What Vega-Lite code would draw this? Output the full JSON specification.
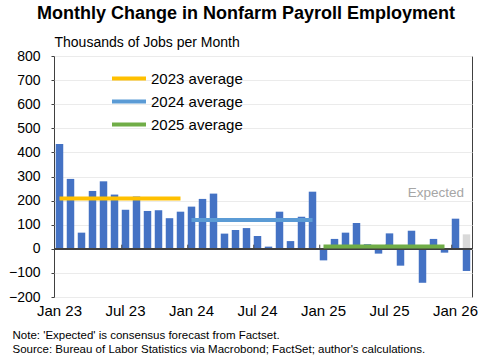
{
  "$schema": "https://vega.github.io/schema/vega-lite/v6.json",
  "width": 418,
  "height": 241,
  "autosize": {"type": "none"},
  "padding": {"left": 54, "top": 56, "right": 20, "bottom": 60},
  "background": "white",
  "config": {
    "font": "Liberation Sans",
    "view": {"stroke": "#404040", "strokeWidth": 1}
  },
  "title": {
    "text": "Monthly Change in Nonfarm Payroll Employment",
    "fontSize": 18,
    "fontWeight": "bold",
    "color": "black",
    "anchor": "middle",
    "dx": -17,
    "offset": 12
  },
  "datasets": {
    "bars": [
      {"m": "Jan 23", "v": 435},
      {"m": "Feb 23", "v": 290},
      {"m": "Mar 23", "v": 67},
      {"m": "Apr 23", "v": 240},
      {"m": "May 23", "v": 280},
      {"m": "Jun 23", "v": 225},
      {"m": "Jul 23", "v": 162},
      {"m": "Aug 23", "v": 217},
      {"m": "Sep 23", "v": 157},
      {"m": "Oct 23", "v": 160},
      {"m": "Nov 23", "v": 127},
      {"m": "Dec 23", "v": 154},
      {"m": "Jan 24", "v": 175},
      {"m": "Feb 24", "v": 207},
      {"m": "Mar 24", "v": 229},
      {"m": "Apr 24", "v": 63},
      {"m": "May 24", "v": 78},
      {"m": "Jun 24", "v": 86},
      {"m": "Jul 24", "v": 53},
      {"m": "Aug 24", "v": 9},
      {"m": "Sep 24", "v": 154},
      {"m": "Oct 24", "v": 32},
      {"m": "Nov 24", "v": 133},
      {"m": "Dec 24", "v": 237},
      {"m": "Jan 25", "v": -48},
      {"m": "Feb 25", "v": 41},
      {"m": "Mar 25", "v": 67},
      {"m": "Apr 25", "v": 107},
      {"m": "May 25", "v": 19},
      {"m": "Jun 25", "v": -20},
      {"m": "Jul 25", "v": 64},
      {"m": "Aug 25", "v": -70},
      {"m": "Sep 25", "v": 75},
      {"m": "Oct 25", "v": -141},
      {"m": "Nov 25", "v": 41},
      {"m": "Dec 25", "v": -16},
      {"m": "Jan 26", "v": 125},
      {"m": "Feb 26", "v": -92, "exp": 60, "note": "Expected"}
    ],
    "avg": [
      {"m": "Jan 23", "avg": 209, "series": "2023 average"},
      {"m": "Dec 23", "avg": 209, "series": "2023 average"},
      {"m": "Jan 24", "avg": 120, "series": "2024 average"},
      {"m": "Dec 24", "avg": 120, "series": "2024 average"},
      {"m": "Jan 25", "avg": 10, "series": "2025 average"},
      {"m": "Dec 25", "avg": 10, "series": "2025 average"}
    ],
    "ticks": [
      {"m": "Jul 23"}, {"m": "Jan 24"}, {"m": "Jul 24"}, {"m": "Jan 25"}, {"m": "Jul 25"}, {"m": "Jan 26"}
    ]
  },
  "encoding": {
    "x": {
      "field": "m",
      "type": "ordinal",
      "scale": {
        "domain": ["Jan 23","Feb 23","Mar 23","Apr 23","May 23","Jun 23","Jul 23","Aug 23","Sep 23","Oct 23","Nov 23","Dec 23",
                   "Jan 24","Feb 24","Mar 24","Apr 24","May 24","Jun 24","Jul 24","Aug 24","Sep 24","Oct 24","Nov 24","Dec 24",
                   "Jan 25","Feb 25","Mar 25","Apr 25","May 25","Jun 25","Jul 25","Aug 25","Sep 25","Oct 25","Nov 25","Dec 25",
                   "Jan 26","Feb 26"],
        "paddingInner": 0.32,
        "paddingOuter": 0.16
      },
      "axis": {
        "values": ["Jan 23","Jul 23","Jan 24","Jul 24","Jan 25","Jul 25","Jan 26"],
        "labelAngle": 0,
        "labelFontSize": 15,
        "labelColor": "black",
        "labelPadding": 6,
        "labelOverlap": false,
        "ticks": false,
        "domain": false,
        "grid": false,
        "title": ["Note: 'Expected' is consensus forecast from Factset.", "Source: Bureau of Labor Statistics via Macrobond; FactSet; author's calculations."],
        "titleFontSize": 11.5,
        "titleFontWeight": "normal",
        "titleColor": "black",
        "titleAlign": "left",
        "titleAnchor": "start",
        "titleBaseline": "alphabetic",
        "titleLineHeight": 14,
        "titleX": -42,
        "titleY": 41
      }
    }
  },
  "layer": [
    {
      "data": {"name": "bars"},
      "mark": {"type": "bar", "color": "#d9d9d9"},
      "encoding": {
        "y": {
          "field": "exp",
          "type": "quantitative",
          "scale": {"domain": [-200, 800], "nice": false},
          "axis": {
            "values": [-200, -100, 0, 100, 200, 300, 400, 500, 600, 700, 800],
            "tickCount": 20,
            "labelOverlap": false,
            "labelFontSize": 14,
            "labelColor": "black",
            "labelPadding": 11,
            "tickSize": 3,
            "tickColor": "#404040",
            "domain": false,
            "grid": true,
            "gridColor": "#ebebeb",
            "title": "Thousands of Jobs per Month",
            "titleAngle": 0,
            "titleAlign": "left",
            "titleAnchor": "start",
            "titleBaseline": "alphabetic",
            "titleFontSize": 14,
            "titleFontWeight": "normal",
            "titleColor": "black",
            "titleX": 0,
            "titleY": -10
          }
        }
      }
    },
    {
      "data": {"name": "bars"},
      "mark": {"type": "bar", "color": "#4472c4"},
      "encoding": {
        "y": {"field": "v", "type": "quantitative"}
      }
    },
    {
      "data": {"name": "bars"},
      "mark": {"type": "rule", "color": "#404040", "strokeWidth": 1.5},
      "encoding": {
        "x": null,
        "y": {"datum": 0, "type": "quantitative"}
      }
    },
    {
      "data": {"name": "ticks"},
      "mark": {"type": "rule", "color": "#404040", "strokeWidth": 1},
      "encoding": {
        "x": {"field": "m", "type": "ordinal", "bandPosition": 0},
        "y": {"datum": 0, "type": "quantitative"},
        "y2": {"datum": 17}
      }
    },
    {
      "data": {"name": "avg"},
      "mark": {"type": "line", "strokeWidth": 4},
      "encoding": {
        "y": {"field": "avg", "type": "quantitative"},
        "color": {
          "field": "series",
          "type": "nominal",
          "scale": {"domain": ["2023 average", "2024 average", "2025 average"], "range": ["#ffc000", "#5b9bd5", "#70ad47"]},
          "legend": {
            "title": null,
            "orient": "none",
            "legendX": 64.5,
            "legendY": 12,
            "padding": 0,
            "symbolType": "M-2,0H2",
            "symbolSize": 289,
            "symbolStrokeWidth": 4,
            "labelFontSize": 15,
            "labelColor": "black",
            "labelOffset": 11.5,
            "rowPadding": 4
          }
        }
      }
    },
    {
      "data": {"name": "bars"},
      "transform": [{"filter": "datum.note != null"}],
      "mark": {"type": "text", "align": "right", "baseline": "middle", "fontSize": 13.5, "color": "#a6a6a6", "dx": -2.5},
      "encoding": {
        "y": {"datum": 231, "type": "quantitative"},
        "text": {"field": "note"}
      }
    }
  ]
}
